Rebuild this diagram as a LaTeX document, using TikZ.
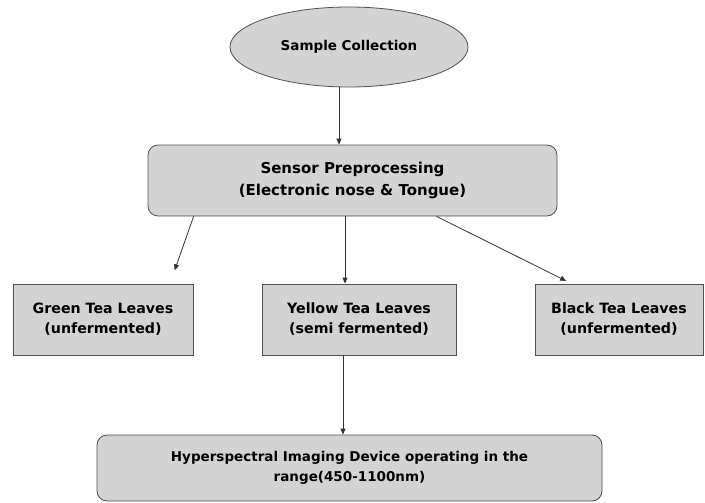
\documentclass[tikz,border=0pt]{standalone}
\usepackage{fontspec}
\setmainfont{DejaVu Sans}
\usepackage{xcolor}
\definecolor{boxgray}{RGB}{211,211,211}
\definecolor{edgegray}{RGB}{80,80,80}
\usetikzlibrary{shapes.geometric, arrows.meta}

\begin{document}
\begin{tikzpicture}[x=1pt, y=-1pt,
  startnode/.style={ellipse, draw=edgegray, thick, fill=boxgray, minimum width=238pt, minimum height=80pt, font=\fontsize{13.5}{15}\selectfont\bfseries},
  sensorbox/.style={rectangle, rounded corners=10pt, draw=edgegray, thick, fill=boxgray, minimum width=409pt, minimum height=71pt, align=center, font=\fontsize{15}{22}\selectfont\bfseries},
  teabox/.style={rectangle, draw=edgegray, thick, fill=boxgray, minimum height=71pt, align=center, font=\fontsize{14.2}{20}\selectfont\bfseries},
  devicebox/.style={rectangle, rounded corners=10pt, draw=edgegray, thick, fill=boxgray, minimum width=505pt, minimum height=66pt, align=center, font=\fontsize{13.5}{20}\selectfont\bfseries},
  flow/.style={-{Triangle[width=5pt, length=6pt]}, line width=0.8pt, draw=black!80}
]
\useasboundingbox (0,0) rectangle (705,503);

% Start
\node[startnode] (collect) at (349, 47) {Sample Collection};

% Preprocessing
\node[sensorbox] (sensor) at (352.5, 180.5) {Sensor Preprocessing\\(Electronic nose \& Tongue)};

% Tea classes
\node[teabox, minimum width=180pt] (green) at (103, 319.5) {Green Tea Leaves\\(unfermented)};
\node[teabox, minimum width=194pt] (yellow) at (359, 319.5) {Yellow Tea Leaves\\(semi fermented)};
\node[teabox, minimum width=168pt] (black) at (619, 319.5) {Black Tea Leaves\\(unfermented)};

% Imaging device
\node[devicebox] (device) at (349.5, 468) {Hyperspectral Imaging Device operating in the\\range(450-1100nm)};

% Flows
\draw[flow] ([xshift=-10pt]collect.south) -- ([xshift=-13.5pt]sensor.north);
\draw[flow, shorten >=14pt] ([xshift=46pt]sensor.south west) -- ([xshift=67pt]green.north);
\draw[flow] ([xshift=-7.5pt]sensor.south) -- ([xshift=-14pt]yellow.north);
\draw[flow, shorten >=6pt] ([xshift=84pt]sensor.south) -- ([xshift=37pt]black.north west);
\draw[flow] ([xshift=-16pt]yellow.south) -- ([xshift=-6.5pt]device.north);

\end{tikzpicture}
\end{document}
